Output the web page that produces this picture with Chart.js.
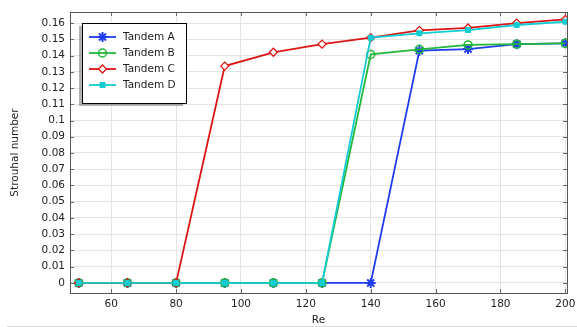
<!DOCTYPE html>
<html><head><meta charset="utf-8">
<script src="https://cdn.jsdelivr.net/npm/chart.js@4/dist/chart.umd.min.js"></script>
<style>html,body{margin:0;padding:0;background:#fff;}#wrap{width:577px;height:327px;position:relative;}</style>
</head><body><div id="wrap"><canvas id="c" width="577" height="327"></canvas></div>
<script>
const reynolds = [50, 65, 80, 95, 110, 125, 140, 155, 170, 185, 200];
const tandemA = [0, 0, 0, 0, 0, 0, 0, 0.143, 0.144, 0.147, 0.1475];
const tandemB = [0, 0, 0, 0, 0, 0, 0.1407, 0.1438, 0.1465, 0.147, 0.1475];
const tandemC = [0, 0, 0, 0.1335, 0.142, 0.147, 0.151, 0.1555, 0.157, 0.160, 0.1622];
const tandemD = [0, 0, 0, 0, 0, 0, 0.151, 0.1537, 0.1557, 0.1588, 0.1608];
const xTicks = [60, 80, 100, 120, 140, 160, 180, 200];
const yTicks = [0,0.01,0.02,0.03,0.04,0.05,0.06,0.07,0.08,0.09,0.1,0.11,0.12,0.13,0.14,0.15,0.16];
const seriesNames = ['Tandem A', 'Tandem B', 'Tandem C', 'Tandem D'];

const FONT = 'DejaVu Sans';
const styles = [
  {color:'#1f3cf2', point:'star', radius:5, fill:'#1f3cf2', pw:2},
  {color:'#22b83a', point:'circle', radius:4, fill:'rgba(255,255,255,0)', pw:1.5},
  {color:'#dd1515', point:'rectRot', radius:4, fill:'#ffffff', pw:1.3},
  {color:'#12cdd2', point:'rect', radius:3.5, fill:'#12cdd2', pw:1},
];
const allData = [tandemA, tandemB, tandemC, tandemD];
const datasets = allData.map((arr, i) => ({
  label: seriesNames[i],
  data: reynolds.map((x, j) => ({x, y: arr[j]})),
  borderColor: styles[i].color,
  backgroundColor: styles[i].fill,
  pointBorderColor: styles[i].color,
  pointBackgroundColor: styles[i].fill,
  pointStyle: styles[i].point,
  pointRadius: styles[i].radius,
  pointBorderWidth: styles[i].pw,
  borderWidth: 1.8,
  tension: 0,
  order: 3 - i
}));

const framePlugin = {
  id: 'frame',
  beforeDatasetsDraw(chart) {
    const {ctx, chartArea: a, scales} = chart;
    ctx.save();
    ctx.strokeStyle = '#666';
    ctx.lineWidth = 1;
    const L = 4;
    xTicks.forEach(v => {
      const x = Math.round(scales.x.getPixelForValue(v)) + 0.5;
      ctx.beginPath(); ctx.moveTo(x, a.bottom); ctx.lineTo(x, a.bottom - L); ctx.stroke();
      ctx.beginPath(); ctx.moveTo(x, a.top); ctx.lineTo(x, a.top + L); ctx.stroke();
    });
    yTicks.forEach(v => {
      const y = Math.round(scales.y.getPixelForValue(v)) + 0.5;
      ctx.beginPath(); ctx.moveTo(a.left, y); ctx.lineTo(a.left + L, y); ctx.stroke();
      ctx.beginPath(); ctx.moveTo(a.right, y); ctx.lineTo(a.right - L, y); ctx.stroke();
    });
    ctx.strokeStyle = '#555';
    ctx.strokeRect(Math.round(a.left) + 0.5, Math.round(a.top) + 0.5, Math.round(a.right - a.left), Math.round(a.bottom - a.top));
    ctx.restore();
  },
  afterDraw(chart) {
    const {ctx} = chart;
    ctx.save();
    // legend
    const bx = 82, by = 23, bw = 104, bh = 80;
    ctx.fillStyle = 'rgba(0,0,0,0.3)';
    ctx.fillRect(bx - 3, by + 3, bw, bh);
    ctx.fillStyle = '#fff';
    ctx.fillRect(bx, by, bw, bh);
    ctx.strokeStyle = '#000';
    ctx.lineWidth = 1;
    ctx.strokeRect(bx + 0.5, by + 0.5, bw, bh);
    ctx.font = '10.5px "' + FONT + '"';
    ctx.textBaseline = 'middle';
    seriesNames.forEach((name, i) => {
      const y = 37 + i * 16;
      const s = styles[i];
      ctx.strokeStyle = s.color;
      ctx.lineWidth = 1.8;
      ctx.beginPath(); ctx.moveTo(89, y); ctx.lineTo(116, y); ctx.stroke();
      ctx.fillStyle = s.fill;
      ctx.strokeStyle = s.color;
      ctx.lineWidth = s.pw;
      Chart.helpers.drawPoint(ctx, {pointStyle: s.point, radius: s.radius, borderWidth: s.pw, rotation: 0}, 102.5, y);
      ctx.fillStyle = '#222';
      ctx.fillText(name, 123, y + 0.5);
    });
    // bottom separator
    ctx.strokeStyle = '#dcdcdc';
    ctx.lineWidth = 1;
    ctx.beginPath(); ctx.moveTo(7, 326.5); ctx.lineTo(577, 326.5); ctx.stroke();
    ctx.restore();
  }
};

new Chart(document.getElementById('c'), {
  type: 'line',
  data: {datasets},
  options: {
    responsive: false,
    animation: false,
    events: [],
    layout: {padding: {left: 0, right: 10, top: 12, bottom: 0}},
    plugins: {legend: {display: false}, tooltip: {enabled: false}},
    scales: {
      x: {
        type: 'linear', min: 47.3, max: 200.5,
        afterBuildTicks(s) { s.ticks = xTicks.map(v => ({value: v})); },
        afterFit(s) { s.height = 34; s.paddingLeft = 0; s.paddingRight = 0; },
        grid: {color: '#e4e4e4', drawTicks: false, lineWidth: 1},
        border: {display: false},
        ticks: {padding: 5, color: '#222', font: {family: FONT, size: 10.5}, maxRotation: 0, autoSkip: false},
        title: {display: true, text: 'Re', color: '#222', font: {family: FONT, size: 10.5}, padding: {top: 0, bottom: 0}}
      },
      y: {
        type: 'linear', min: -0.0062, max: 0.1668,
        afterBuildTicks(s) { s.ticks = yTicks.map(v => ({value: v})); },
        afterFit(s) { s.width = 70; s.paddingTop = 0; s.paddingBottom = 0; },
        grid: {color: '#e4e4e4', drawTicks: false, lineWidth: 1},
        border: {display: false},
        ticks: {padding: 5, color: '#222', font: {family: FONT, size: 10.5}, autoSkip: false,
          callback: v => String(Math.round(v * 100) / 100)},
        title: {display: true, text: 'Strouhal number', color: '#222', font: {family: FONT, size: 10.5}, padding: {top: 9, bottom: 0}}
      }
    }
  },
  plugins: [framePlugin]
});
</script></body></html>
